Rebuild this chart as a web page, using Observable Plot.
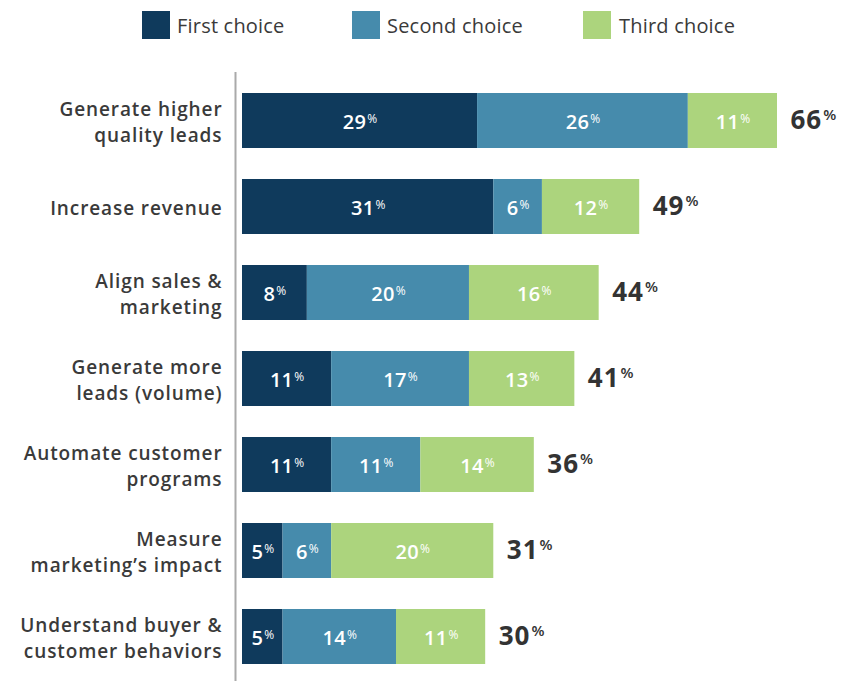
<!DOCTYPE html>
<html><head><meta charset="utf-8">
<script src="https://cdn.jsdelivr.net/npm/d3@7"></script>
<script src="https://cdn.jsdelivr.net/npm/@observablehq/plot@0.6"></script>
<style>
body{margin:0;background:#fff;font-family:"Open Sans",sans-serif;}
#legend{position:relative;width:857px;height:50px;}
.sw{position:absolute;top:11px;width:28px;height:28px;}
.lb{position:absolute;top:12px;line-height:28px;font-size:20px;color:#3a3a3a;letter-spacing:0.2px;}
</style></head><body>
<div id="legend"></div><div id="chart"></div>
<script>
const categories = [
  "Generate higher\nquality leads",
  "Increase revenue",
  "Align sales &\nmarketing",
  "Generate more\nleads (volume)",
  "Automate customer\nprograms",
  "Measure\nmarketing’s impact",
  "Understand buyer &\ncustomer behaviors"
];
const firstChoice  = [29, 31, 8, 11, 11, 5, 5];
const secondChoice = [26, 6, 20, 17, 11, 6, 14];
const thirdChoice  = [11, 12, 16, 13, 14, 20, 11];
const totals       = [66, 49, 44, 41, 36, 31, 30];
const seriesNames  = ["First choice", "Second choice", "Third choice"];
const colors       = ["#0f3a5c", "#468bac", "#acd47d"];

// legend
const legend = document.getElementById("legend");
const swX = [142, 352, 583], lbX = [177, 387, 619];
seriesNames.forEach((s, i) => {
  const sw = document.createElement("div"); sw.className = "sw";
  sw.style.left = swX[i] + "px"; sw.style.background = colors[i];
  const lb = document.createElement("div"); lb.className = "lb";
  lb.style.left = lbX[i] + "px"; lb.textContent = s;
  legend.appendChild(sw); legend.appendChild(lb);
});

const series = [firstChoice, secondChoice, thirdChoice];
const long = [];
categories.forEach((c, i) => series.forEach((arr, j) => long.push({cat: c, series: seriesNames[j], value: arr[i]})));
const totalsData = categories.map((c, i) => ({cat: c, total: totals[i]}));

const plot = Plot.plot({
  width: 857, height: 631,
  marginTop: 22, marginBottom: 0, marginLeft: 0, marginRight: 0,
  x: {domain: [0, 66], range: [242, 777], axis: null},
  y: {domain: categories, range: [23.5, 632.5], paddingInner: 0.362, paddingOuter: 0.2146, axis: null},
  color: {domain: seriesNames, range: colors},
  style: {fontFamily: "Open Sans", background: "#fff"},
  marks: [
    Plot.ruleX([0], {dx: -7, stroke: "#aaaaaa", strokeWidth: 2}),
    Plot.barX(long, {x: "value", y: "cat", fill: "series"}),
    Plot.text(long, Plot.stackX({x: "value", y: "cat", text: d => d.value + "%", fill: "white", fontSize: 20, fontWeight: 600, dy: 1.5})),
    Plot.text(totalsData, {x: "total", y: "cat", text: d => d.total + "%", textAnchor: "start", dx: 13, fontSize: 26, fontWeight: "bold", fill: "#333333"}),
    Plot.text(categories, {x: () => 0, y: d => d, text: d => d, textAnchor: "end", dx: -20, fontSize: 19, fontWeight: 600, fill: "#3a3a3a", lineHeight: 1.37})
  ]
});

d3.select(plot).selectAll("text").each(function() {
  const holder = this.closest("[font-size]");
  const fs = holder ? parseFloat(holder.getAttribute("font-size")) : 16;
  const sel = d3.select(this);
  if (fs === 19) sel.attr("letter-spacing", 0.9);
  const m = /^(\d+)%$/.exec(this.textContent);
  if (!m) return;
  const big = fs > 20;
  sel.attr("letter-spacing", big ? 1 : 0.3);
  sel.text(null);
  sel.append("tspan").text(m[1]);
  sel.append("tspan").text("%")
    .attr("font-size", big ? fs * 0.58 : 12)
    .attr("dy", big ? -fs * 0.36 : -6)
    .attr("dx", 1)
    .attr("letter-spacing", 0)
    .attr("font-weight", big ? 600 : 500);
});

document.getElementById("chart").appendChild(plot);
</script>
</body></html>
